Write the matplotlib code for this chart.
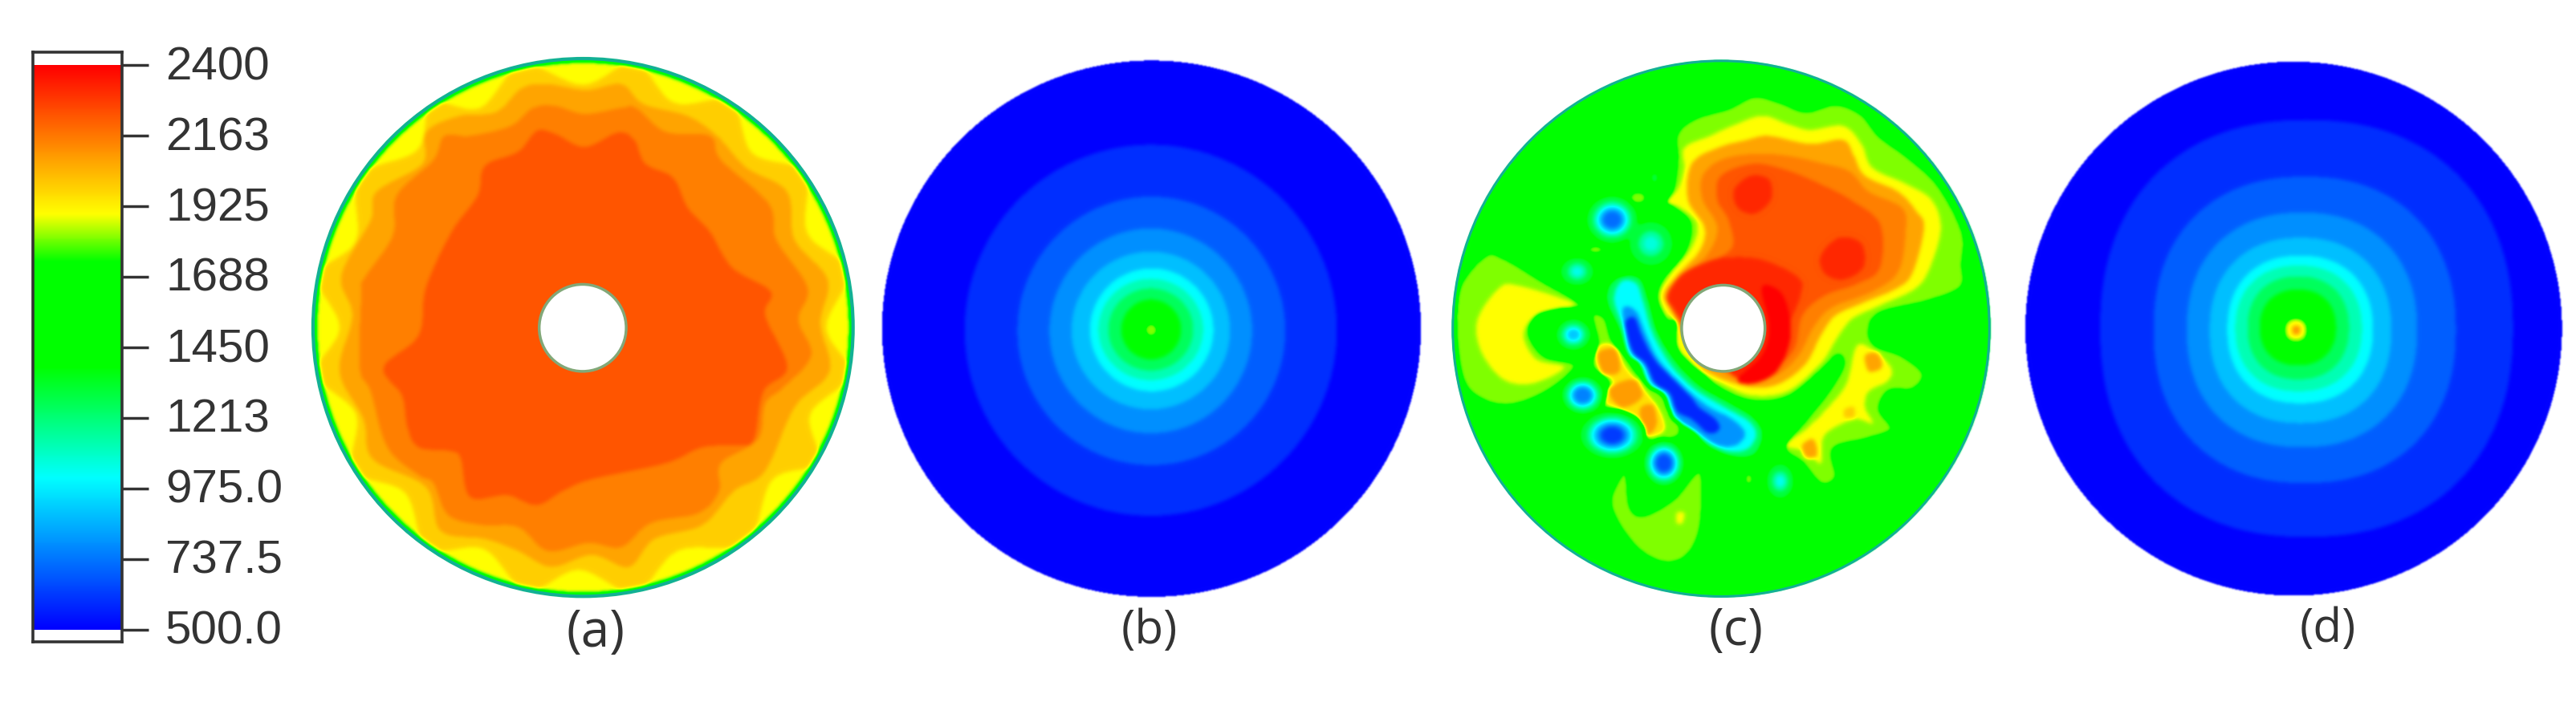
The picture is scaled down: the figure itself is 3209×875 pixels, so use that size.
import numpy as np
import matplotlib
matplotlib.use("Agg")
import matplotlib.pyplot as plt
from matplotlib.colors import LinearSegmentedColormap
from matplotlib.path import Path
from matplotlib.patches import Ellipse
from matplotlib.transforms import ScaledTranslation

W, H = 3209, 875

# -------------------------
# Colour scale
# -------------------------
temp_min, temp_max = 500.0, 2400.0
tick_values = [500.0, 737.5, 975.0, 1213, 1450, 1688, 1925, 2163, 2400]
tick_labels = ["500.0", "737.5", "975.0", "1213", "1450", "1688", "1925", "2163", "2400"]
stop_temps = [500, 1010, 1385, 1740, 1900, 2400]
stop_colors = ["#0000ff", "#00ffff", "#00ff00", "#00ff00", "#ffff00", "#ff0000"]

# -------------------------
# Temperature contours
# (T, closed loop), x and y in a 1568 x 1568 reading frame per panel
# -------------------------
a_base = 1900
a_loops = [
    (1992, [(776,112),(916,57),(1023,157),(1176,154),(1235,283),(1377,333),(1384,483),(1494,580),(1436,720),(1499,837),
            (1392,937),(1412,1057),(1289,1102),(1218,1259),(1034,1279),(916,1383),(764,1327),(623,1380),(507,1275),(355,1273),
            (293,1134),(154,1078),(160,937),(53,837),(116,720),(55,591),(160,503),(168,343),(326,276),(366,160),(497,170),(611,62)]),
    (2076, [(785,125),(680,110),(610,120),(540,180),(440,190),(350,230),(340,310),(215,380),(200,450),(120,590),(150,690),
            (115,830),(180,950),(205,1050),(350,1120),(390,1230),(510,1250),(600,1280),(690,1320),(800,1290),(900,1320),
            (970,1250),(1100,1215),(1185,1130),(1270,1080),(1350,920),(1445,830),(1420,710),(1440,600),(1350,500),(1330,380),
            (1220,320),(1140,240),(1060,190),(940,160),(880,110)]),
    (2149, [(780,185),(700,165),(640,170),(580,215),(470,240),(400,240),(370,300),(270,390),(260,490),(180,600),(175,630),
            (170,820),(200,880),(245,1020),(330,1090),(370,1110),(410,1190),(500,1215),(600,1220),(680,1280),(790,1260),
            (880,1270),(960,1210),(1090,1185),(1145,1130),(1150,1060),(1250,1000),(1270,910),(1320,870),(1395,790),(1360,700),
            (1385,620),(1300,500),(1280,410),(1150,300),(1120,240),(1000,230),(920,170),(880,170)]),
    (2233, [(650,228),(700,235),(780,268),(870,232),(915,250),(945,310),(1020,345),(1060,420),(1120,480),(1180,570),(1285,630),
            (1270,690),(1330,820),(1265,880),(1240,1000),(1200,1015),(1100,1020),(1000,1060),(800,1100),(720,1130),(650,1165),
            (570,1140),(470,1145),(445,1050),(420,1030),(330,1020),(300,970),(285,890),(235,820),(330,740),(350,620),(420,480),
            (490,390),(510,315),(600,280)]),
]

c_base = 1560
c_warm_loops = [
    # left lobe
    (1820, [(60,620),(130,540),(180,545),(280,600),(390,665),(290,680),(250,730),(290,790),(375,815),(300,880),(200,915),
            (120,900),(70,850),(50,730)]),
    (1900, [(170,620),(220,615),(330,645),(370,665),(270,690),(235,740),(270,800),(345,820),(260,860),(180,850),(120,780),(110,700)]),
    # bottom crescent
    (1820, [(500,1090),(515,1095),(525,1170),(560,1190),(640,1150),(700,1085),(720,1100),(715,1220),(680,1290),(620,1310),
            (550,1280),(490,1210),(470,1150)]),
    (1900, [(650,1185),(670,1185),(665,1210),(650,1210)]),
    # hot region
    (1820, [(650,235),(700,195),(790,170),(860,140),(930,155),(1000,178),(1080,160),(1150,185),(1200,240),(1280,295),(1360,365),
            (1425,480),(1425,560),(1420,620),(1330,655),(1200,685),(1172,730),(1190,765),(1260,790),(1318,835),(1290,875),
            (1225,880),(1200,925),(1232,975),(1165,1000),(1075,1025),(1082,1095),(1040,1112),(990,1060),(942,1020),(1000,950),
            (1060,880),(1100,815),(1085,790),(1040,830),(950,895),(850,905),(760,870),(715,830),(650,770),(660,700),(625,705),
            (595,650),(610,600),(670,530),(685,460),(640,420),(620,405),(640,370),(650,300)]),
    (1900, [(670,270),(740,240),(800,215),(880,190),(950,210),(1010,225),(1100,215),(1150,260),(1180,320),(1270,360),(1340,400),
            (1365,470),(1340,560),(1300,620),(1200,665),(1130,695),(1100,725),(1075,760),(1040,810),(950,880),(850,890),(770,860),
            (710,830),(650,770),(650,690),(625,690),(605,640),(630,590),(690,520),(705,460),(660,420),(625,405),(655,370),(670,320)]),
    (2076, [(690,310),(760,270),(840,250),(900,240),(1010,260),(1100,250),(1130,290),(1160,340),(1250,380),(1300,430),(1320,470),
            (1290,580),(1250,620),(1150,660),(1080,690),(1040,740),(1000,810),(930,860),(850,870),(750,840),(700,800),(640,690),
            (615,640),(650,590),(710,530),(725,470),(680,400)]),
    (2149, [(720,340),(770,300),(860,285),(950,290),(1050,310),(1120,330),(1170,380),(1260,420),(1270,480),(1250,580),(1180,630),
            (1070,670),(1020,720),(980,790),(920,840),(850,855),(760,820),(650,680),(620,640),(660,590),(730,540),(760,470),(720,400)]),
    (2233, [(770,340),(860,310),(960,330),(1060,370),(1120,400),(1200,460),(1200,570),(1140,610),(1050,640),(990,690),(970,770),
            (920,820),(850,840),(770,810),(700,760),(640,680),(625,640),(670,590),(730,560),(800,520),(790,450),(760,400)]),
    (2320, [(640,670),(625,640),(660,590),(720,560),(780,545),(880,550),(980,595),(985,640),(960,700),(930,780),(880,840),
            (820,850),(760,800),(700,740)]),
    (2320, [(805,375),(850,340),(900,350),(905,400),(860,435),(815,420)]),
    (2320, [(1040,540),(1090,495),(1150,510),(1155,570),(1100,600),(1050,585)]),
    (2400, [(880,620),(930,630),(955,690),(955,760),(920,830),(860,860),(815,850),(880,790),(900,720)]),
    # lower right arm
    (1900, [(945,1015),(1000,975),(1060,920),(1110,860),(1135,770),(1170,770),(1230,820),(1220,855),(1170,880),(1160,920),
            (1180,960),(1130,950),(1050,990),(1040,1060),(1000,1030)]),
    (2076, [(1160,790),(1195,785),(1205,820),(1170,830)]),
    (2000, [(1105,925),(1130,920),(1130,945),(1105,945)]),
    (2076, [(990,1015),(1020,1000),(1030,1040),(1000,1045)]),
    # orange chain
    (1820, [(420,690),(455,695),(475,750),(510,790),(540,830),(570,860),(620,900),(660,985),(580,1005),(545,975),(505,935),
            (445,915),(465,860),(420,815),(435,760)]),
    (1960, [(435,770),(475,765),(510,820),(550,865),(600,925),(615,975),(575,990),(540,955),(500,925),(455,905),(480,860),(440,815)]),
    (2090, [(435,785),(485,775),(495,830),(450,835)]),
    (2090, [(465,875),(535,850),(555,895),(500,920)]),
    (2090, [(550,925),(585,915),(595,965),(565,990)]),
]
c_arc_loops = [
    (1250, [(500,590),(550,595),(575,650),(600,730),(650,805),(715,865),(790,905),(860,945),(885,990),(860,1040),(800,1045),
            (735,1020),(700,985),(660,960),(630,925),(610,880),(570,860),(545,810),(515,790),(490,720),(460,660),(465,615)]),
    (1010, [(500,605),(540,610),(560,660),(585,735),(635,815),(700,875),(780,920),(845,955),(865,990),(840,1025),(790,1030),
            (730,1005),(690,975),(640,945),(620,890),(575,865),(555,815),(520,780),(505,720),(480,650)]),
    (800,  [(505,670),(540,680),(565,735),(600,800),(660,860),(730,915),(800,950),(835,985),(810,1015),(760,1015),(710,985),
            (650,945),(625,890),(585,860),(560,815),(525,785),(510,730)]),
    (580,  [(510,710),(535,695),(555,740),(590,800),(640,850),(690,895),(710,920),(755,950),(765,975),(735,985),(690,950),
            (650,930),(630,885),(590,860),(565,810),(530,780)]),
]

# small cool spots of panel (c)
spot_x = [475, 580, 380, 370, 395, 475, 615, 930, 590]
spot_y = [450, 510, 580, 738, 890, 990, 1060, 1105, 345]
spot_rx = [72, 62, 48, 50, 60, 90, 58, 40, 12]
spot_ry = [62, 58, 38, 42, 50, 62, 60, 46, 14]
spot_core = [720, 1060, 1040, 900, 760, 620, 660, 1030, 1300]
spot_bands = [1300, 1150, 1010, 884, 788, 692, 596]
# small warm flecks of panel (c)
fleck_x = [845, 545, 430]
fleck_y = [1100, 395, 525]
fleck_rx = [12, 22, 20]
fleck_ry = [14, 16, 10]
fleck_t = [1820, 1820, 1820]

# rings of the two blue panels: T, left, right, top, bottom
b_rings_t = [596, 692, 788, 884, 1010, 1120, 1250, 1385, 1820]
b_left = [265, 408, 495, 555, 605, 628, 655, 690, 752]
b_right = [1275, 1135, 1045, 985, 940, 912, 885, 852, 790]
b_top = [262, 392, 472, 530, 572, 598, 622, 650, 708]
b_bottom = [1192, 1065, 985, 925, 880, 852, 828, 800, 745]

d_rings_t = [596, 692, 788, 884, 1010, 1120, 1250, 1385, 1800, 1900, 2100]
d_left = [275, 420, 510, 572, 620, 642, 675, 708, 770, 780, 795]
d_right = [1395, 1240, 1135, 1065, 1015, 985, 950, 915, 842, 832, 818]
d_top = [200, 342, 432, 495, 540, 565, 592, 625, 692, 702, 715]
d_bottom = [1245, 1110, 1020, 960, 910, 880, 850, 815, 762, 750, 738]

# disc outlines, reading frame: centre x, centre y, radius x, radius y
disc_a = (776, 720, 734, 675)
disc_b = (772, 723, 731, 672)
disc_c = (771, 723, 729, 672)
disc_d = (800, 723, 728, 669)
hole_a = (775, 721, 118, 109)
hole_c = (777, 722, 113, 108)

panel_labels = ["(a)", "(b)", "(c)", "(d)"]

# -------------------------
# Helpers
# -------------------------

def axes_px(fig, x, y, w, h):
    return fig.add_axes([x / W, 1 - (y + h) / H, w / W, h / H])


def smooth_loop(pts, n=8):
    # periodic Catmull-Rom
    p = np.array(pts, dtype=float)
    out = []
    t = np.linspace(0, 1, n, endpoint=False)[:, None]
    for i in range(len(p)):
        p0, p1, p2, p3 = p[i - 1], p[i], p[(i + 1) % len(p)], p[(i + 2) % len(p)]
        out.append(0.5 * (2 * p1 + (p2 - p0) * t + (2 * p0 - 5 * p1 + 4 * p2 - p3) * t**2
                          + (3 * p1 - p0 - 3 * p2 + p3) * t**3))
    return np.vstack(out)


def oval(left, right, top, bottom, power=2.0, n=120):
    a = np.linspace(0, 2 * np.pi, n, endpoint=False)
    c, s = np.cos(a), np.sin(a)
    x = (left + right) / 2 + (right - left) / 2 * np.sign(c) * np.abs(c) ** (2 / power)
    y = (top + bottom) / 2 + (bottom - top) / 2 * np.sign(s) * np.abs(s) ** (2 / power)
    return np.column_stack([x, y])


def paint(field, xs, ys, loop, value):
    # fill inside of one closed contour
    i0 = max(np.searchsorted(xs, loop[:, 0].min()) - 1, 0)
    i1 = min(np.searchsorted(xs, loop[:, 0].max()) + 1, len(xs))
    j0 = max(np.searchsorted(ys, loop[:, 1].min()) - 1, 0)
    j1 = min(np.searchsorted(ys, loop[:, 1].max()) + 1, len(ys))
    gx, gy = np.meshgrid(xs[i0:i1], ys[j0:j1])
    inside = Path(loop).contains_points(np.column_stack([gx.ravel(), gy.ravel()]))
    field[j0:j1, i0:i1][inside.reshape(gx.shape)] = value


def blur(z, sigma):
    r = int(3 * sigma) + 1
    k = np.exp(-0.5 * (np.arange(-r, r + 1) / sigma) ** 2)
    k /= k.sum()
    z = np.pad(z, r, mode="edge")
    z = np.apply_along_axis(lambda m: np.convolve(m, k, mode="same"), 0, z)
    z = np.apply_along_axis(lambda m: np.convolve(m, k, mode="same"), 1, z)
    return z[r:-r, r:-r]


def draw_panel(ax, nx, ny, base, loops, disc, sigma=2.4, wall=None, hole=None):
    xs = (np.arange(nx) + 0.5) * 1568 / nx
    ys = (np.arange(ny) + 0.5) * 1568 / ny
    field = np.full((ny, nx), float(base))
    for value, loop in loops:
        paint(field, xs, ys, loop, value)
    gx, gy = np.meshgrid(xs, ys)
    q = np.hypot((gx - disc[0]) / disc[2], (gy - disc[1]) / disc[3])
    if wall is not None:
        field[q > 1 - wall[0]] = wall[1]
    field = blur(field, sigma)
    alpha = np.clip(blur((q <= 1).astype(float), 1.0), 0, 1)
    ax.imshow(field, extent=(0, 1568, 1568, 0), cmap=cmap, vmin=temp_min, vmax=temp_max,
              alpha=alpha, aspect="auto", interpolation="bilinear", zorder=1)
    if wall is not None:
        ax.add_patch(Ellipse(disc[:2], 2 * disc[2] * (1 - wall[2] / 2), 2 * disc[3] * (1 - wall[2] / 2), fill=False,
                             ec=wall[3], lw=wall[4], zorder=2))
    if hole is not None:
        ax.add_patch(Ellipse(hole[:2], 2 * hole[2], 2 * hole[3], fc="white", ec="#82a878", lw=2.5, zorder=3))
    ax.set_xlim(0, 1568)
    ax.set_ylim(1568, 0)
    ax.axis("off")


# -------------------------
# Figure
# -------------------------
cmap = LinearSegmentedColormap.from_list(
    "temp", [((t - temp_min) / (temp_max - temp_min), c) for t, c in zip(stop_temps, stop_colors)], N=512)

fig = plt.figure(figsize=(W / 100, H / 100), dpi=100, facecolor="white")

# colour bar
cax = axes_px(fig, 41, 65, 111, 735)
grad = np.linspace(temp_max, temp_min, 500)[:, None]
cax.imshow(grad, extent=(0, 1, temp_min, temp_max), cmap=cmap, vmin=temp_min, vmax=temp_max,
           aspect="auto", interpolation="bilinear")
cax.set_xlim(0, 1)
cax.set_ylim(459, 2444)
cax.set_xticks([])
cax.yaxis.tick_right()
cax.set_yticks(tick_values)
cax.set_yticklabels(tick_labels, fontfamily="Liberation Sans", fontsize=42, color="#333333")
cax.tick_params(axis="y", length=24, width=2.5, color="#333333", pad=15)
for lab in cax.get_yticklabels():
    lab.set_transform(lab.get_transform() + ScaledTranslation(0, 3 / 100, fig.dpi_scale_trans))
for s in cax.spines.values():
    s.set_linewidth(2.6)
    s.set_color("#333333")

# panels
panel_x = [370, 1080, 1790, 2490]
ax_a, ax_b, ax_c, ax_d = [axes_px(fig, x, 50, 720, 780) for x in panel_x]

draw_panel(ax_a, 720, 780, a_base, [(t, smooth_loop(p)) for t, p in a_loops], disc_a,
           wall=(0.014, 1560, 0.004, "#12b095", 3.0), hole=hole_a)

c_all = [(t, smooth_loop(p)) for t, p in c_warm_loops]
for x, y, rx, ry, t in zip(fleck_x, fleck_y, fleck_rx, fleck_ry, fleck_t):
    c_all.append((t, oval(x - rx, x + rx, y - ry, y + ry)))
c_all += [(t, smooth_loop(p)) for t, p in c_arc_loops]
for x, y, rx, ry, core in zip(spot_x, spot_y, spot_rx, spot_ry, spot_core):
    bands = [b for b in spot_bands if b > core] + [core]
    for i, b in enumerate(bands):
        f = 1 - 0.7 * (i / max(len(bands) - 1, 1)) ** 0.6
        c_all.append((b, oval(x - rx * f, x + rx * f, y - ry * f, y + ry * f)))
draw_panel(ax_c, 720, 780, c_base, c_all, disc_c, wall=(0.008, 1250, 0.003, "#12b095", 2.2), hole=hole_c)

b_all = [(t, oval(l, r, u, v)) for t, l, r, u, v in zip(b_rings_t, b_left, b_right, b_top, b_bottom)]
draw_panel(ax_b, 720, 780, 500, b_all, disc_b)

d_all = [(t, oval(l, r, u, v, power=2.25)) for t, l, r, u, v in zip(d_rings_t, d_left, d_right, d_top, d_bottom)]
draw_panel(ax_d, 719, 780, 500, d_all, disc_d)

# labels
label_pos = [(810, 1486), (767, 1482), (812, 1482), (892, 1477)]
label_size = [46, 42, 46, 42]
for ax, lab, pos, size in zip([ax_a, ax_b, ax_c, ax_d], panel_labels, label_pos, label_size):
    ax.text(pos[0], pos[1], lab, fontsize=size, color="#333333", family="Open Sans", ha="center", va="center", zorder=5)

fig.savefig("out.png", dpi=100)
